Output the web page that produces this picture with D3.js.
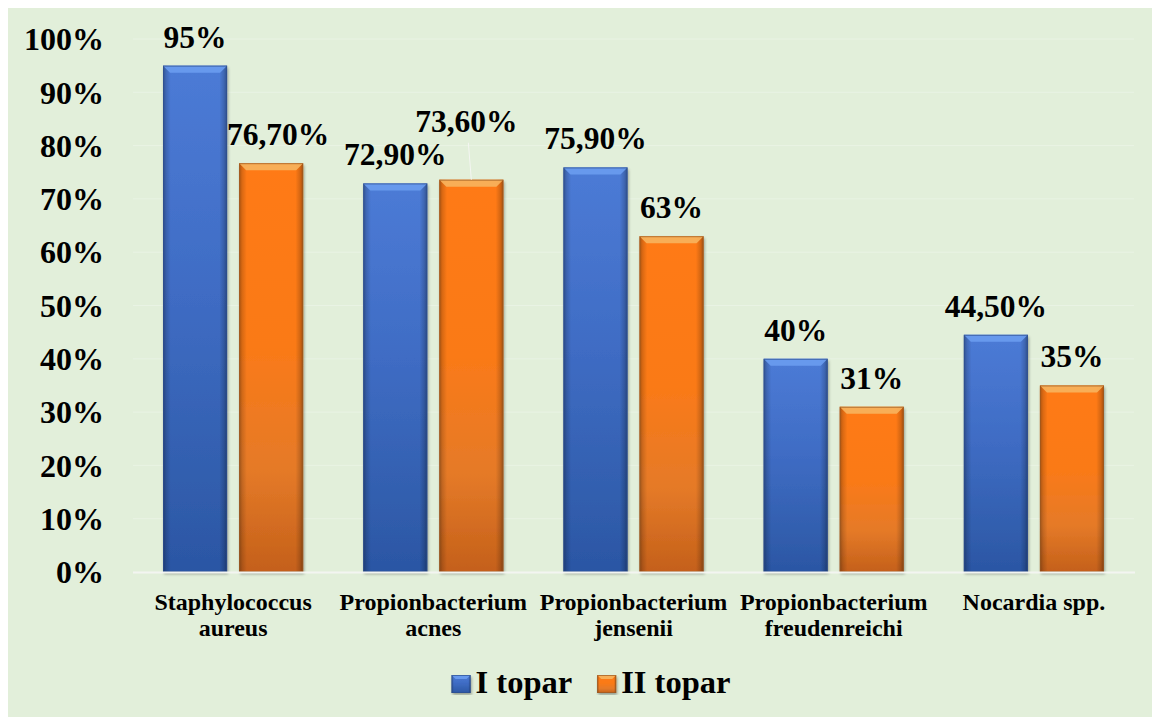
<!DOCTYPE html>
<html>
<head>
<meta charset="utf-8">
<script src="https://cdn.jsdelivr.net/npm/d3@7"></script>
</head>
<body style="margin:0">
<svg id="chart" width="1152" height="717"></svg>
<script>
// Data
const categories = [
  "Staphylococcus\naureus",
  "Propionbacterium\nacnes",
  "Propionbacterium\njensenii",
  "Propionbacterium\nfreudenreichi",
  "Nocardia spp."
];
const seriesNames = ["I topar", "II topar"];
const seriesI  = [95, 72.9, 75.9, 40, 44.5];
const seriesII = [76.7, 73.6, 63, 31, 35];
const yTicks = [0, 10, 20, 30, 40, 50, 60, 70, 80, 90, 100];

// Layout
const W = 1152, H = 717;
const plot = { left: 133, right: 1134, top: 39, bottom: 572 };
const serif = "'Liberation Serif'";

const palette = {
  "I topar":  { top: "#4c7bd6", mid: "#3f6cc4", low: "#3461b2", bottom: "#2b56a4", bevel: "#6a9cf0", stroke: "#2d4f8f" },
  "II topar": { top: "#ff7a14", mid: "#fa7a18", low: "#e57a28", bottom: "#c4601a", bevel: "#f7b45e", stroke: "#9a5a24" }
};

// Label nudges (px) for individual value labels
const labelNudge = {
  "Staphylococcus\naureus|II topar": { dx: 7, dy: 0 },
  "Propionbacterium\nacnes|II topar": { dx: -5, dy: -30, leader: true }
};

const fmt = v => Number.isInteger(v) ? v + "%" : v.toFixed(2).replace(".", ",") + "%";

const svg = d3.select("#chart");
const defs = svg.append("defs");

// Background panel
svg.append("rect").attr("x", 8).attr("y", 8).attr("width", W - 8).attr("height", H - 8)
  .attr("fill", "#e2efda");

const x0 = d3.scaleBand().domain(categories).range([plot.left, plot.right])
  .paddingInner(0.3).paddingOuter(0.15);
const x1 = d3.scaleBand().domain(seriesNames).range([0, x0.bandwidth()])
  .paddingInner(0.158).paddingOuter(0);
const y = d3.scaleLinear().domain([0, 100]).range([plot.bottom, plot.top]);

// Gradients
seriesNames.forEach((s, i) => {
  const c = palette[s];
  const g = defs.append("linearGradient").attr("id", "vg" + i)
    .attr("x1", 0).attr("y1", 0).attr("x2", 0).attr("y2", 1);
  g.append("stop").attr("offset", "0%").attr("stop-color", c.top);
  g.append("stop").attr("offset", "45%").attr("stop-color", c.mid);
  g.append("stop").attr("offset", "75%").attr("stop-color", c.low);
  g.append("stop").attr("offset", "100%").attr("stop-color", c.bottom);
});
const hg = defs.append("linearGradient").attr("id", "edgeShade")
  .attr("x1", 0).attr("y1", 0).attr("x2", 1).attr("y2", 0);
[[0, 0.32], [0.05, 0.14], [0.12, 0], [0.88, 0], [0.95, 0.16], [1, 0.35]].forEach(([o, a]) => {
  hg.append("stop").attr("offset", o).attr("stop-color", "#000").attr("stop-opacity", a);
});
const shadow = defs.append("filter").attr("id", "barShadow")
  .attr("x", "-10%").attr("y", "-5%").attr("width", "130%").attr("height", "115%");
shadow.append("feGaussianBlur").attr("in", "SourceAlpha").attr("stdDeviation", 1.5);
shadow.append("feOffset").attr("dx", 1).attr("dy", 2).attr("result", "off");
shadow.append("feComponentTransfer").append("feFuncA").attr("type", "linear").attr("slope", 0.35);
const merge = shadow.append("feMerge");
merge.append("feMergeNode");
merge.append("feMergeNode").attr("in", "SourceGraphic");

// Gridlines
svg.append("g").selectAll("line").data(yTicks.filter(t => t > 0)).join("line")
  .attr("x1", plot.left).attr("x2", plot.right)
  .attr("y1", d => y(d)).attr("y2", d => y(d))
  .attr("stroke", "#e9f3e4").attr("stroke-width", 1);

// Y axis labels
svg.append("g").selectAll("text").data(yTicks).join("text")
  .attr("x", 104).attr("y", d => y(d)).attr("dy", "0.35em")
  .attr("text-anchor", "end")
  .style("font-family", serif).style("font-size", "32px").style("font-weight", "bold")
  .text(d => d + "%");

// Bars
const rows = [];
categories.forEach((c, i) => {
  rows.push({ cat: c, s: "I topar", si: 0, v: seriesI[i] });
  rows.push({ cat: c, s: "II topar", si: 1, v: seriesII[i] });
});

function drawBevelBar(g, w, h, si, bevel) {
  const c = palette[seriesNames[si]];
  g.append("rect").attr("width", w).attr("height", h).attr("fill", `url(#vg${si})`)
    .attr("filter", "url(#barShadow)");
  g.append("rect").attr("width", w).attr("height", h).attr("fill", "url(#edgeShade)");
  g.append("polygon")
    .attr("points", `0,0 ${w},0 ${w - bevel},${bevel} ${bevel},${bevel}`)
    .attr("fill", c.bevel).attr("opacity", 0.9);
  g.append("rect").attr("x", 0.5).attr("y", 0.5).attr("width", w - 1).attr("height", h - 1)
    .attr("fill", "none").attr("stroke", c.stroke).attr("stroke-width", 1).attr("stroke-opacity", 0.7);
}

const barG = svg.append("g");
rows.forEach(d => {
  const bx = x0(d.cat) + x1(d.s);
  const by = y(d.v);
  const g = barG.append("g").attr("transform", `translate(${bx},${by})`);
  drawBevelBar(g, x1.bandwidth(), y(0) - by, d.si, 7);
});

// Baseline
svg.append("line").attr("x1", plot.left).attr("x2", plot.right + 1)
  .attr("y1", y(0) + 0.5).attr("y2", y(0) + 0.5)
  .attr("stroke", "#f3f5f1").attr("stroke-width", 2);

// Value labels
rows.forEach(d => {
  const nudge = labelNudge[d.cat + "|" + d.s] || { dx: 0, dy: 0 };
  const cx = x0(d.cat) + x1(d.s) + x1.bandwidth() / 2;
  const ty = y(d.v) - 18 + nudge.dy;
  if (nudge.leader) {
    svg.append("line").attr("x1", cx - 3).attr("y1", ty + 11).attr("x2", cx).attr("y2", y(d.v))
      .attr("stroke", "#f4f6f2").attr("stroke-width", 1);
  }
  svg.append("text").attr("x", cx + nudge.dx).attr("y", ty)
    .attr("text-anchor", "middle")
    .style("font-family", serif).style("font-size", "31.5px").style("font-weight", "bold")
    .text(fmt(d.v));
});

// Category labels
categories.forEach(c => {
  const t = svg.append("text").attr("text-anchor", "middle")
    .style("font-family", serif).style("font-size", "24px").style("font-weight", "bold");
  c.split("\n").forEach((line, k) => {
    t.append("tspan").attr("x", x0(c) + x0.bandwidth() / 2).attr("y", 610 + k * 26).text(line);
  });
});

// Legend
const legend = svg.append("g");
let lx = 0;
seriesNames.forEach((s, si) => {
  const it = legend.append("g");
  const sq = it.append("g").attr("transform", "translate(0,-18)");
  drawBevelBar(sq, 19, 18, si, 4);
  const tx = it.append("text").attr("x", 24).attr("y", 0)
    .style("font-family", serif).style("font-size", "32.5px").style("font-weight", "bold")
    .text(s);
  const w = 24 + tx.node().getComputedTextLength();
  it.attr("transform", `translate(${lx},0)`);
  lx += w + 25;
});
const legendW = lx - 25;
legend.attr("transform", `translate(${591 - legendW / 2},693)`);
</script>
</body>
</html>
